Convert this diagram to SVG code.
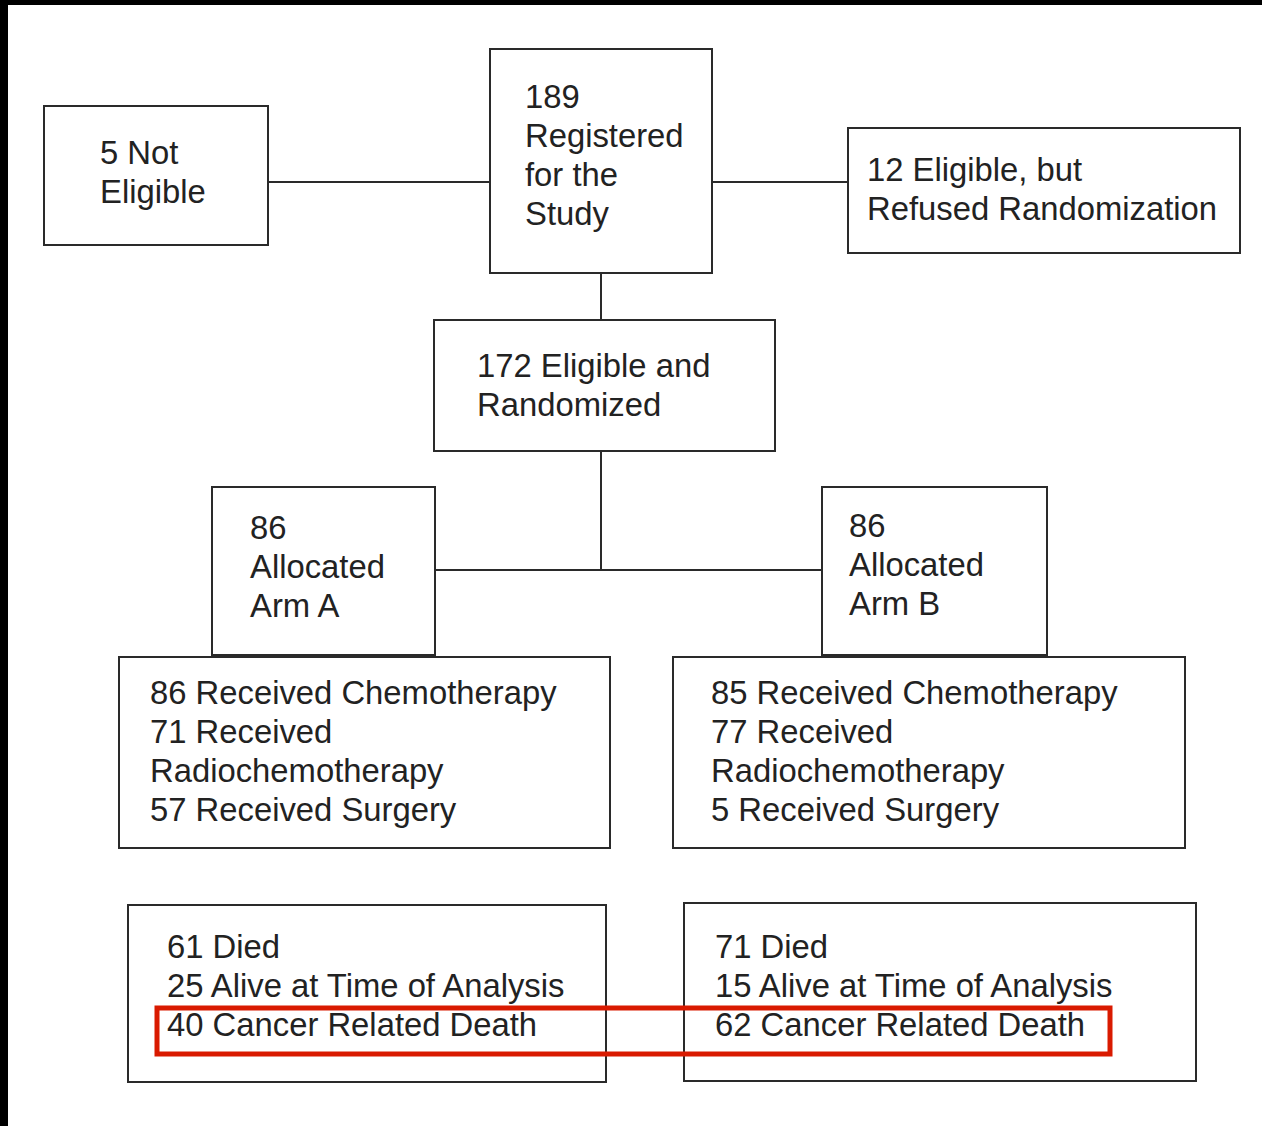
<svg xmlns="http://www.w3.org/2000/svg" width="1262" height="1126" viewBox="0 0 1262 1126">
<style>
.box{fill:#fff;stroke:#2a2a2a;stroke-width:2}
.ln{stroke:#2a2a2a;stroke-width:2;fill:none}
text{font-family:"Liberation Sans",Arial,sans-serif;font-size:32.8px;fill:#222}
</style>
<rect x="0" y="0" width="1262" height="1126" fill="#fff"/>
<rect x="0" y="0" width="1262" height="5" fill="#000"/>
<rect x="0" y="0" width="8" height="1126" fill="#000"/>
<g id="connectors">
<line class="ln" x1="268" y1="182" x2="490" y2="182"/>
<line class="ln" x1="712" y1="182" x2="848" y2="182"/>
<line class="ln" x1="601" y1="273" x2="601" y2="320"/>
<line class="ln" x1="601" y1="451" x2="601" y2="570"/>
<line class="ln" x1="435" y1="570" x2="822" y2="570"/>
</g>
<g id="not-eligible"><rect class="box" x="44" y="106" width="224" height="139"/>
<text x="100" y="164">5 Not</text><text x="100" y="203">Eligible</text></g>
<g id="registered"><rect class="box" x="490" y="49" width="222" height="224"/>
<text x="525" y="108">189</text><text x="525" y="147">Registered</text><text x="525" y="186">for the</text><text x="525" y="225">Study</text></g>
<g id="refused"><rect class="box" x="848" y="128" width="392" height="125"/>
<text x="867" y="181">12 Eligible, but</text><text x="867" y="220">Refused Randomization</text></g>
<g id="randomized"><rect class="box" x="434" y="320" width="341" height="131"/>
<text x="477" y="377">172 Eligible and</text><text x="477" y="416">Randomized</text></g>
<g id="arm-a"><rect class="box" x="212" y="487" width="223" height="168"/>
<text x="250" y="539">86</text><text x="250" y="578">Allocated</text><text x="250" y="617">Arm A</text></g>
<g id="arm-b"><rect class="box" x="822" y="487" width="225" height="168"/>
<text x="849" y="537">86</text><text x="849" y="576">Allocated</text><text x="849" y="615">Arm B</text></g>
<g id="treat-a"><rect class="box" x="119" y="657" width="491" height="191"/>
<text x="150" y="704">86 Received Chemotherapy</text><text x="150" y="743">71 Received</text><text x="150" y="782">Radiochemotherapy</text><text x="150" y="821">57 Received Surgery</text></g>
<g id="treat-b"><rect class="box" x="673" y="657" width="512" height="191"/>
<text x="711" y="704">85 Received Chemotherapy</text><text x="711" y="743">77 Received</text><text x="711" y="782">Radiochemotherapy</text><text x="711" y="821">5 Received Surgery</text></g>
<g id="outcome-a"><rect class="box" x="128" y="905" width="478" height="177"/>
<text x="167" y="958">61 Died</text><text x="167" y="997">25 Alive at Time of Analysis</text><text x="167" y="1036">40 Cancer Related Death</text></g>
<g id="outcome-b"><rect class="box" x="684" y="903" width="512" height="178"/>
<text x="715" y="958">71 Died</text><text x="715" y="997">15 Alive at Time of Analysis</text><text x="715" y="1036">62 Cancer Related Death</text></g>
<rect id="highlight" x="157" y="1008" width="953" height="46" fill="none" stroke="#d91a00" stroke-width="5"/>
</svg>
